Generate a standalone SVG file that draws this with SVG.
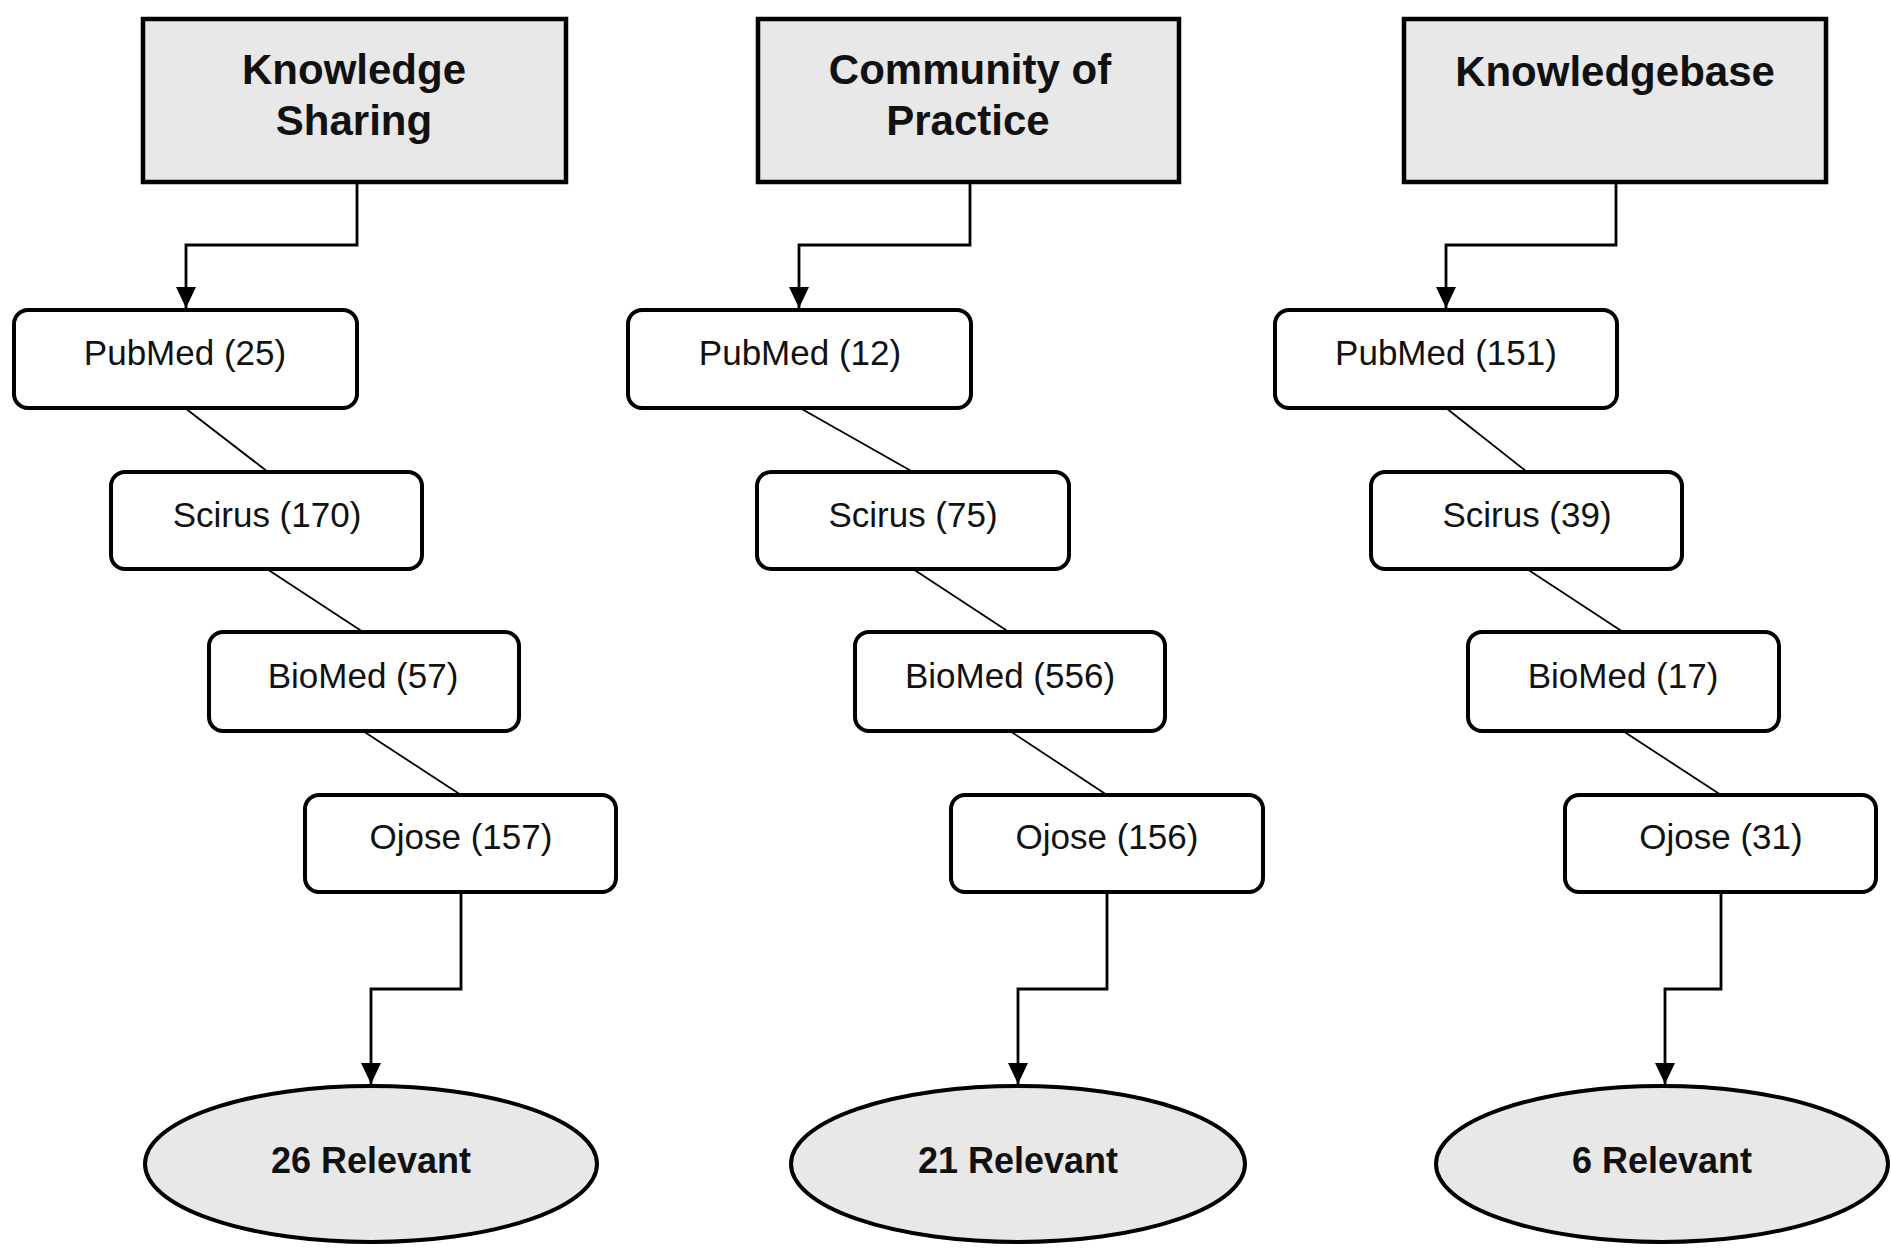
<svg xmlns="http://www.w3.org/2000/svg" width="1891" height="1251" viewBox="0 0 1891 1251">
<defs>
<style>
.title{fill:#e8e8e8;stroke:#000;stroke-width:4.5}
.db{fill:#fff;stroke:#000;stroke-width:4}
.res{fill:#e8e8e8;stroke:#000;stroke-width:4}
.tt{font-family:"Liberation Sans",Arial,sans-serif;font-size:42px;font-weight:bold;text-anchor:middle;fill:#111}
.nt{font-family:"Liberation Sans",Arial,sans-serif;font-size:35px;text-anchor:middle;fill:#111}
.rt{font-family:"Liberation Sans",Arial,sans-serif;font-size:36px;font-weight:bold;text-anchor:middle;fill:#111}
.elbow{fill:none;stroke:#000;stroke-width:2.8}
.diag{fill:none;stroke:#000;stroke-width:1.8}
</style>
<marker id="arr" markerUnits="userSpaceOnUse" markerWidth="22" markerHeight="22" refX="21" refY="10" orient="auto">
<path d="M0,0 L21,10 L0,20 z" fill="#000"/>
</marker>
</defs>
<rect width="1891" height="1251" fill="#fff"/>

<g id="connectors">
<path class="elbow" d="M357,182 V245 H186 V308" marker-end="url(#arr)"/>
<path class="diag" d="M185,408 L268,472"/>
<path class="diag" d="M267,569 L363,632"/>
<path class="diag" d="M363,731 L461,795"/>
<path class="elbow" d="M461,892 V989 H371 V1084" marker-end="url(#arr)"/>

<path class="elbow" d="M970,182 V245 H799 V308" marker-end="url(#arr)"/>
<path class="diag" d="M800,408 L913,472"/>
<path class="diag" d="M913,569 L1009,632"/>
<path class="diag" d="M1010,731 L1107,795"/>
<path class="elbow" d="M1107,892 V989 H1018 V1084" marker-end="url(#arr)"/>

<path class="elbow" d="M1616,182 V245 H1446 V308" marker-end="url(#arr)"/>
<path class="diag" d="M1446,408 L1527,472"/>
<path class="diag" d="M1527,569 L1623,632"/>
<path class="diag" d="M1623,731 L1721,795"/>
<path class="elbow" d="M1721,892 V989 H1665 V1084" marker-end="url(#arr)"/>
</g>

<g id="n-ks"><rect class="title" x="143" y="19" width="423" height="163"/><text class="tt" x="354" y="84">Knowledge</text><text class="tt" x="354" y="135">Sharing</text></g>
<g id="n-cop"><rect class="title" x="758" y="19" width="421" height="163"/><text class="tt" x="970" y="84">Community of</text><text class="tt" x="968" y="135">Practice</text></g>
<g id="n-kb"><rect class="title" x="1404" y="19" width="422" height="163"/><text class="tt" x="1615" y="86">Knowledgebase</text></g>

<g id="n-pm1"><rect class="db" x="14" y="310" width="343" height="98" rx="14"/><text class="nt" x="185" y="365">PubMed (25)</text></g>
<g id="n-sc1"><rect class="db" x="111" y="472" width="311" height="97" rx="14"/><text class="nt" x="267" y="527">Scirus (170)</text></g>
<g id="n-bm1"><rect class="db" x="209" y="632" width="310" height="99" rx="14"/><text class="nt" x="363" y="688">BioMed (57)</text></g>
<g id="n-oj1"><rect class="db" x="305" y="795" width="311" height="97" rx="14"/><text class="nt" x="461" y="849">Ojose (157)</text></g>
<g id="n-r1"><ellipse class="res" cx="371" cy="1164" rx="226" ry="78"/><text class="rt" x="371" y="1173">26 Relevant</text></g>

<g id="n-pm2"><rect class="db" x="628" y="310" width="343" height="98" rx="14"/><text class="nt" x="800" y="365">PubMed (12)</text></g>
<g id="n-sc2"><rect class="db" x="757" y="472" width="312" height="97" rx="14"/><text class="nt" x="913" y="527">Scirus (75)</text></g>
<g id="n-bm2"><rect class="db" x="855" y="632" width="310" height="99" rx="14"/><text class="nt" x="1010" y="688">BioMed (556)</text></g>
<g id="n-oj2"><rect class="db" x="951" y="795" width="312" height="97" rx="14"/><text class="nt" x="1107" y="849">Ojose (156)</text></g>
<g id="n-r2"><ellipse class="res" cx="1018" cy="1164" rx="227" ry="78"/><text class="rt" x="1018" y="1173">21 Relevant</text></g>

<g id="n-pm3"><rect class="db" x="1275" y="310" width="342" height="98" rx="14"/><text class="nt" x="1446" y="365">PubMed (151)</text></g>
<g id="n-sc3"><rect class="db" x="1371" y="472" width="311" height="97" rx="14"/><text class="nt" x="1527" y="527">Scirus (39)</text></g>
<g id="n-bm3"><rect class="db" x="1468" y="632" width="311" height="99" rx="14"/><text class="nt" x="1623" y="688">BioMed (17)</text></g>
<g id="n-oj3"><rect class="db" x="1565" y="795" width="311" height="97" rx="14"/><text class="nt" x="1721" y="849">Ojose (31)</text></g>
<g id="n-r3"><ellipse class="res" cx="1662" cy="1164" rx="226" ry="78"/><text class="rt" x="1662" y="1173">6 Relevant</text></g>
</svg>
